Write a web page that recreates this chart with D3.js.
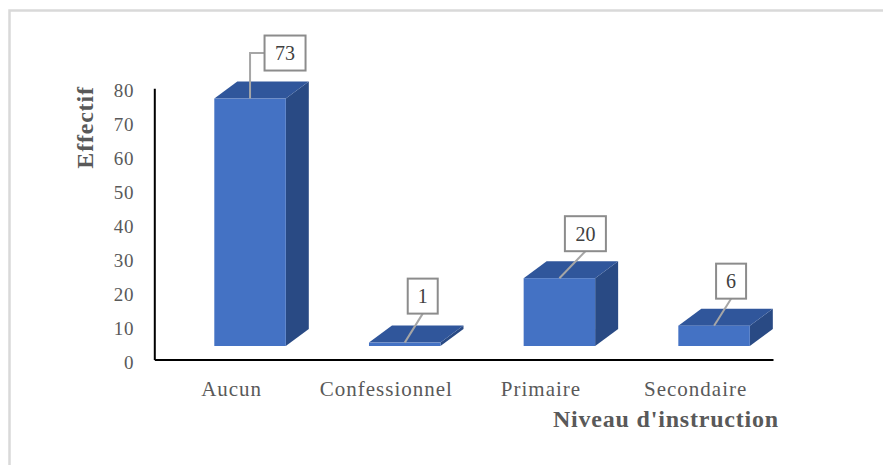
<!DOCTYPE html>
<html lang="fr">
<head>
<meta charset="utf-8">
<script src="https://cdn.jsdelivr.net/npm/d3@7"></script>
<style>
  html, body { margin: 0; padding: 0; background: #fff; }
  svg { display: block; }
</style>
</head>
<body>
<svg id="chart" width="883" height="465"></svg>
<script>
// Effectif par niveau d'instruction
const categories = ["Aucun", "Confessionnel", "Primaire", "Secondaire"];
const effectifs = [73, 1, 20, 6];
const yTicks = [0, 10, 20, 30, 40, 50, 60, 70, 80];

// Callout placement relative to the top-front centre of each column
const calloutShift = [
  { dx: 35, dy: -28, elbow: true },
  { dx: 18, dy: -29, elbow: false },
  { dx: 26, dy: -27, elbow: false },
  { dx: 17, dy: -27, elbow: false }
];

const W = 883, H = 465;
const svg = d3.select("#chart");

const colors = {
  front: "#4472c4",
  top: "#30569b",
  side: "#294a84",
  text: "#595959",
  label: "#404040",
  box: "#8c8c8c",
  frame: "#d9d9d9"
};

// Outer frame (only top and left edges fall inside the view)
svg.append("rect")
  .attr("x", 9.5).attr("y", 10.5)
  .attr("width", W + 40).attr("height", H + 40)
  .attr("fill", "none")
  .attr("stroke", colors.frame)
  .attr("stroke-width", 2.5);

const plotLeft = 154.3, plotRight = 773, y0 = 359.5;
const x = d3.scaleBand().domain(categories).range([plotLeft, plotRight]).padding(0);
const y = d3.scaleLinear().domain([0, 80]).range([y0, y0 - 80 * 3.39]);

// 3-D column geometry
const faceInset = 60;     // offset of the front face inside its band
const faceWidth = 71.5;
const depthX = 23, depthY = 17;
const floorLift = 13.5;   // front face sits above the axis line

const cols = categories.map((c, i) => {
  const x0 = x(c) + faceInset;
  const x1 = x0 + faceWidth;
  const yb = y(0) - floorLift;
  const yt = y(effectifs[i]) - floorLift;
  return { c, v: effectifs[i], i, x0, x1, yb, yt };
});

const gBars = svg.append("g");
cols.forEach(d => {
  // side face
  gBars.append("path")
    .attr("d", `M${d.x1},${d.yb} L${d.x1 + depthX},${d.yb - depthY} L${d.x1 + depthX},${d.yt - depthY} L${d.x1},${d.yt} Z`)
    .attr("fill", colors.side);
  // top face
  gBars.append("path")
    .attr("d", `M${d.x0},${d.yt} L${d.x0 + depthX},${d.yt - depthY} L${d.x1 + depthX},${d.yt - depthY} L${d.x1},${d.yt} Z`)
    .attr("fill", colors.top);
  // front face
  gBars.append("rect")
    .attr("x", d.x0).attr("y", d.yt)
    .attr("width", faceWidth).attr("height", d.yb - d.yt)
    .attr("fill", colors.front);
});

// Axes
const yAxis = d3.axisLeft(y).tickValues(yTicks).tickSize(0).tickPadding(20);
const gy = svg.append("g").attr("transform", `translate(${plotLeft},0)`).call(yAxis);
gy.select(".domain").attr("stroke", "#000").attr("stroke-width", 2);
gy.selectAll("text")
  .attr("fill", colors.text)
  .attr("font-family", "'Liberation Serif', 'Times New Roman', serif")
  .attr("font-size", 19)
  .attr("letter-spacing", 0.8)
  .attr("dy", "0.45em");

const xAxis = d3.axisBottom(x).tickSize(0).tickPadding(22);
const gx = svg.append("g").attr("transform", `translate(0,${y0})`).call(xAxis);
gx.select(".domain").attr("stroke", "#000").attr("stroke-width", 2);
gx.selectAll("text")
  .attr("fill", colors.text)
  .attr("font-family", "'Liberation Serif', 'Times New Roman', serif")
  .attr("font-size", 21)
  .attr("letter-spacing", 1);

// Axis titles
svg.append("text")
  .attr("x", 779).attr("y", 427)
  .attr("text-anchor", "end")
  .attr("fill", colors.text)
  .attr("font-family", "'Liberation Serif', 'Times New Roman', serif")
  .attr("font-weight", "bold")
  .attr("font-size", 24)
  .attr("letter-spacing", 0.8)
  .text("Niveau d'instruction");

svg.append("text")
  .attr("transform", "translate(93,127.5) rotate(-90)")
  .attr("text-anchor", "middle")
  .attr("fill", colors.text)
  .attr("font-family", "'Liberation Serif', 'Times New Roman', serif")
  .attr("font-weight", "bold")
  .attr("font-size", 24)
  .attr("letter-spacing", 0.8)
  .text("Effectif");

// Data callouts
const gLab = svg.append("g");
cols.forEach(d => {
  const s = calloutShift[d.i];
  const ax = (d.x0 + d.x1) / 2, ay = d.yt;
  const label = String(d.v);
  const bw = label.length > 1 ? 41 : 30, bh = 35;
  const cx = ax + s.dx, by = ay + s.dy; // box bottom
  const bx = cx - bw / 2, bt = by - bh;

  if (s.elbow) {
    const my = bt + bh / 2;
    gLab.append("path")
      .attr("d", `M${ax},${ay} L${ax},${my} L${bx},${my}`)
      .attr("fill", "none").attr("stroke", "#a6a6a6").attr("stroke-width", 2);
  } else {
    gLab.append("line")
      .attr("x1", ax).attr("y1", ay).attr("x2", cx).attr("y2", by)
      .attr("stroke", "#a6a6a6").attr("stroke-width", 2);
  }
  gLab.append("rect")
    .attr("x", bx).attr("y", bt).attr("width", bw).attr("height", bh)
    .attr("fill", "#fff").attr("stroke", colors.box).attr("stroke-width", 2);
  gLab.append("text")
    .attr("x", cx).attr("y", bt + bh / 2)
    .attr("dy", "0.36em")
    .attr("text-anchor", "middle")
    .attr("fill", colors.label)
    .attr("font-family", "'Liberation Serif', 'Times New Roman', serif")
    .attr("font-size", 20)
    .text(label);
});
</script>
</body>
</html>
